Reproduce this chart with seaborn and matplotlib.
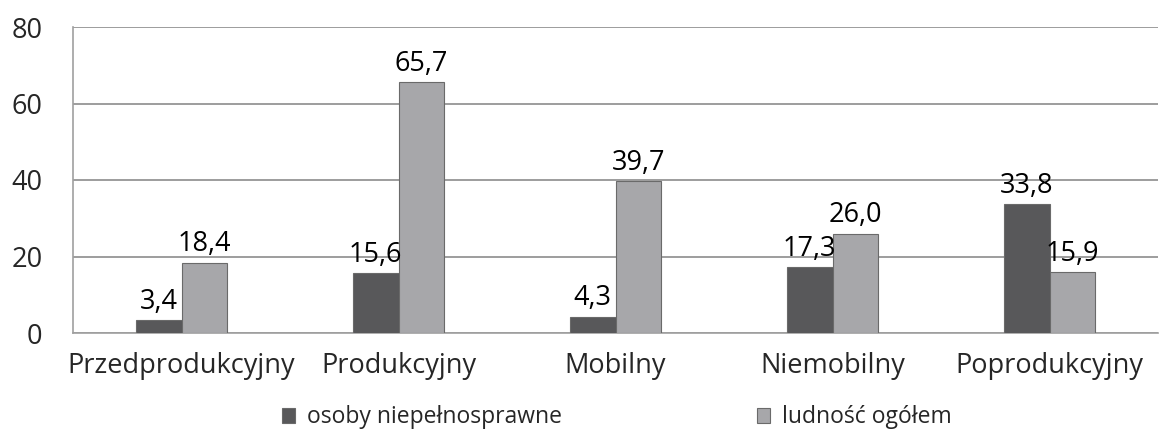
import pandas as pd
import numpy as np
import matplotlib
matplotlib.use("Agg")
import matplotlib.pyplot as plt
import seaborn as sns
from matplotlib.ticker import FixedLocator

categories = ["Przedprodukcyjny", "Produkcyjny", "Mobilny", "Niemobilny", "Poprodukcyjny"]
disabled = [3.4, 15.6, 4.3, 17.3, 33.8]
total = [18.4, 65.7, 39.7, 26.0, 15.9]
series_names = ["osoby niepełnosprawne", "ludność ogółem"]
yticks = [0, 20, 40, 60, 80]

df = pd.DataFrame({
    "kategoria": categories * 2,
    "wartosc": disabled + total,
    "seria": [series_names[0]] * len(categories) + [series_names[1]] * len(categories),
})

sns.set_style("white")
plt.rcParams["font.family"] = ["Open Sans", "DejaVu Sans"]

fig = plt.figure(figsize=(11.61, 4.33), dpi=100)
ax = fig.add_axes([73 / 1161, 100 / 433, 1085 / 1161, 306 / 433])

palette = {series_names[0]: "#58585a", series_names[1]: "#a7a7aa"}
sns.barplot(data=df, x="kategoria", y="wartosc", hue="seria", palette=palette,
            width=0.42, gap=0, edgecolor="#6a6a6a", linewidth=0.8,
            saturation=1, ax=ax, legend=True, zorder=3)

for cont in ax.containers:
    labels = [f"{v:.1f}".replace(".", ",") for v in cont.datavalues]
    ax.bar_label(cont, labels=labels, fontsize=19.5, padding=3, color="black")

ax.set_ylim(0, 80)
ax.set_xlim(-0.5, len(categories) - 0.5)
ax.set_yticks(yticks)
ax.yaxis.grid(True, color="#8c8c8c", linewidth=1.2, zorder=0)
ax.set_axisbelow(True)
ax.set_xlabel("")
ax.set_ylabel("")

for s in ["top", "right"]:
    ax.spines[s].set_visible(False)
ax.spines["left"].set_color("#a0a0a0")
ax.spines["left"].set_linewidth(1.2)
ax.spines["bottom"].set_color("#a0a0a0")
ax.spines["bottom"].set_linewidth(1.2)

ax.tick_params(axis="y", length=10, color="#8c8c8c", width=1.2, labelsize=19.5, pad=12)
ax.tick_params(axis="x", which="major", length=0, labelsize=19.5, pad=14)
ax.xaxis.set_minor_locator(FixedLocator(np.arange(0.5, len(categories) - 0.5, 1)))
ax.tick_params(axis="x", which="minor", length=10, color="#a0a0a0", width=1.2)

handles, labs = ax.get_legend_handles_labels()
ax.get_legend().remove()
fig.legend(handles, labs, loc="center", bbox_to_anchor=(0.531, 0.036), ncol=2,
           frameon=False, fontsize=16.5, handlelength=0.6, handleheight=0.6,
           handletextpad=0.5, columnspacing=8.5)

fig.savefig("out.png", dpi=100)
